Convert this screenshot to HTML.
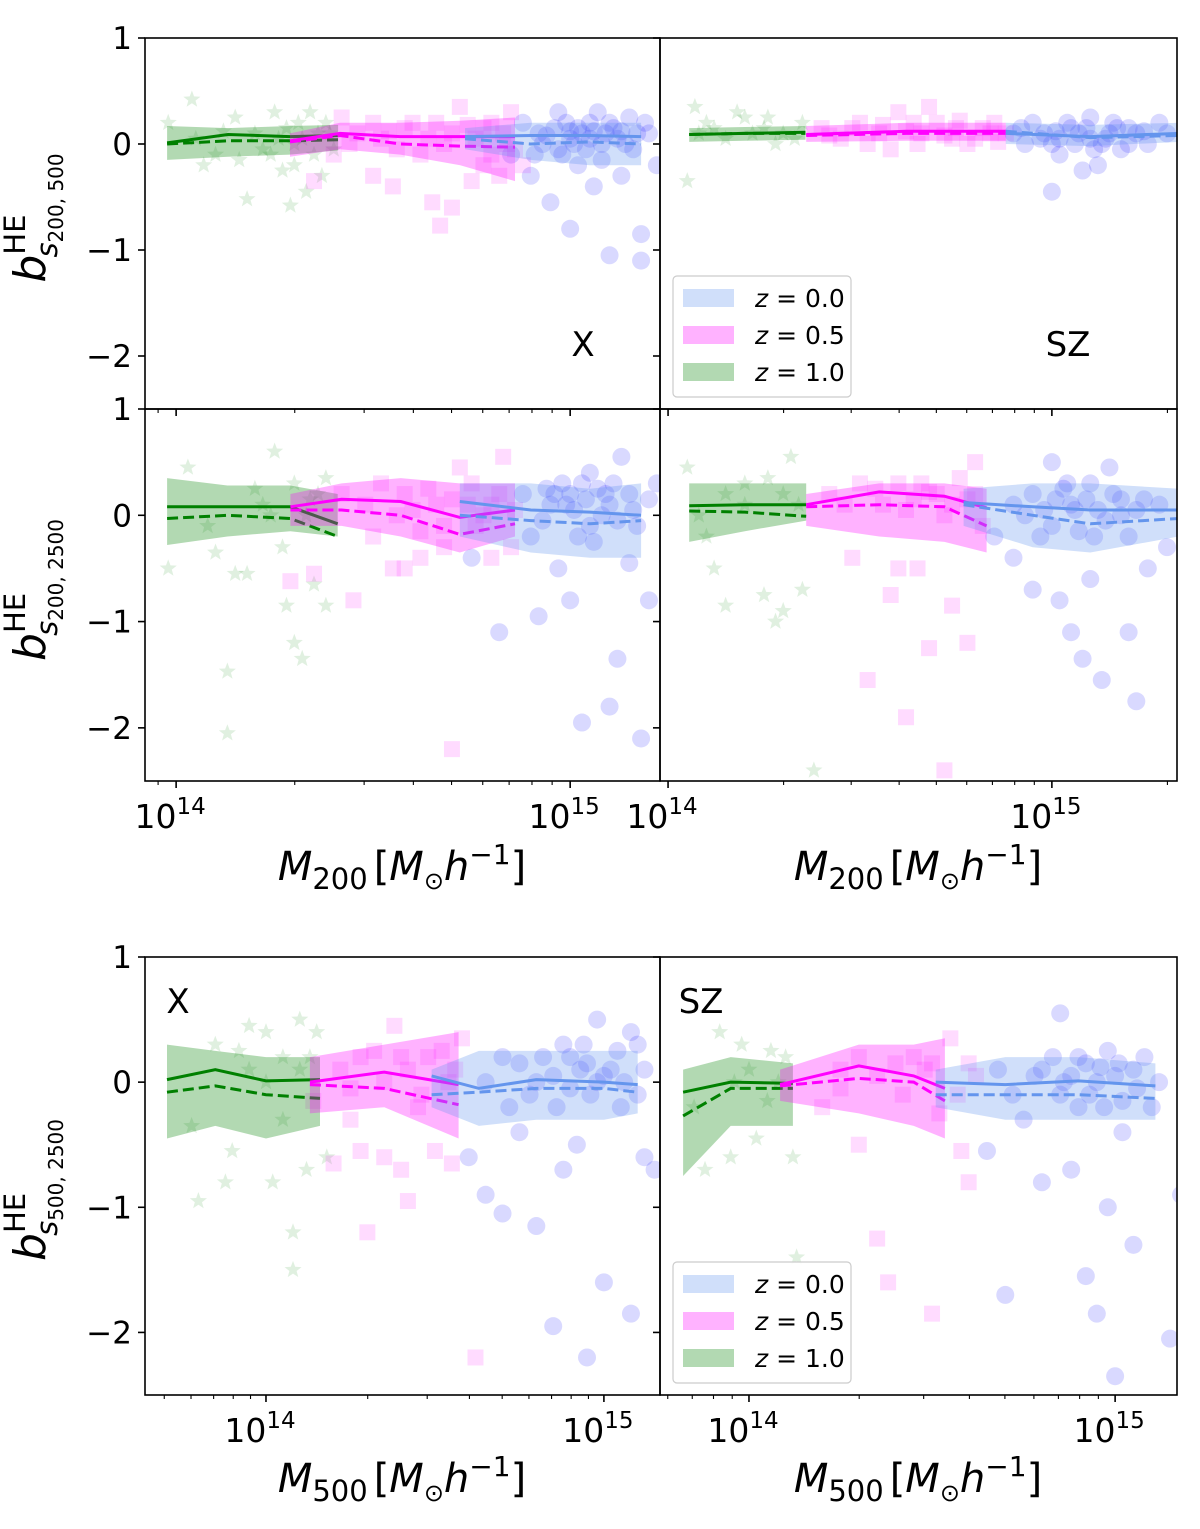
<!DOCTYPE html>
<html><head><meta charset="utf-8"><style>
html,body{margin:0;padding:0;background:#fff}
svg{display:block;font-family:"DejaVu Sans","Liberation Sans",sans-serif}
</style></head><body>
<svg id="fig" width="1200" height="1529" viewBox="0 0 1200 1529" xmlns="http://www.w3.org/2000/svg">
<g id="layer"></g>
</svg>
<script>
// ---------------- DATA ----------------
const A_gx=[13.977,14.132,14.289,14.411], A_gs=[0.01,0.09,0.07,0.08], A_gd=[0.0,0.03,0.03,0.04], A_gh=[0.17,0.15,0.17,0.18], A_gl=[-0.15,-0.12,-0.1,-0.06];
const A_mx=[14.289,14.416,14.569,14.721,14.86], A_ms=[0.03,0.1,0.07,0.07,0.07], A_md=[0.02,0.08,0.0,-0.02,-0.03], A_mh=[0.1,0.2,0.2,0.22,0.25], A_ml=[-0.12,-0.05,-0.1,-0.2,-0.35];
const A_bx=[14.733,14.9,15.05,15.18], A_bs=[0.07,0.08,0.08,0.07], A_bd=[0.05,0.0,0.02,0.0], A_bh=[0.15,0.2,0.2,0.2], A_bl=[-0.05,-0.15,-0.2,-0.2];

const B_gx=[14.055,14.2,14.358], B_gs=[0.09,0.1,0.11], B_gd=[0.09,0.1,0.1], B_gh=[0.15,0.16,0.17], B_gl=[0.02,0.03,0.04];
const B_mx=[14.36,14.62,14.88], B_ms=[0.09,0.12,0.12], B_md=[0.08,0.1,0.1], B_mh=[0.17,0.2,0.2], B_ml=[0.02,0.03,0.03];
const B_bx=[14.88,15.1,15.33], B_bs=[0.1,0.07,0.1], B_bd=[0.12,0.06,0.08], B_bh=[0.2,0.18,0.2], B_bl=[0.0,-0.02,0.02];

const C_gx=[13.977,14.13,14.29,14.41], C_gs=[0.08,0.08,0.08,-0.08], C_gd=[-0.03,0.0,-0.03,-0.2], C_gh=[0.35,0.28,0.28,0.2], C_gl=[-0.28,-0.2,-0.15,-0.2];
const C_mx=[14.29,14.42,14.57,14.72,14.86], C_ms=[0.08,0.15,0.13,-0.02,0.05], C_md=[0.05,0.05,0.0,-0.18,-0.08], C_mh=[0.2,0.3,0.35,0.3,0.3], C_ml=[-0.1,-0.1,-0.2,-0.35,-0.2];
const C_bx=[14.72,14.9,15.05,15.18], C_bs=[0.13,0.05,0.03,0.0], C_bd=[0.0,-0.05,-0.08,-0.05], C_bh=[0.3,0.3,0.25,0.3], C_bl=[-0.2,-0.35,-0.4,-0.4];

const D_gx=[14.055,14.2,14.36], D_gs=[0.09,0.1,0.1], D_gd=[0.04,0.03,-0.01], D_gh=[0.3,0.3,0.3], D_gl=[-0.25,-0.15,-0.05];
const D_mx=[14.36,14.55,14.72,14.83], D_ms=[0.1,0.22,0.18,0.07], D_md=[0.08,0.1,0.08,-0.1], D_mh=[0.2,0.3,0.3,0.25], D_ml=[-0.1,-0.2,-0.25,-0.35];
const D_bx=[14.77,14.95,15.1,15.33], D_bs=[0.12,0.08,0.05,0.05], D_bd=[0.1,0.0,-0.08,-0.03], D_bh=[0.25,0.3,0.3,0.25], D_bl=[-0.1,-0.3,-0.35,-0.2];

const E_gx=[13.707,13.85,14.0,14.16], E_gs=[0.02,0.1,0.01,0.02], E_gd=[-0.08,-0.03,-0.1,-0.13], E_gh=[0.3,0.25,0.2,0.2], E_gl=[-0.45,-0.35,-0.45,-0.35];
const E_mx=[14.13,14.35,14.57], E_ms=[0.0,0.08,-0.02], E_md=[-0.02,-0.05,-0.18], E_mh=[0.2,0.3,0.4], E_ml=[-0.25,-0.2,-0.45];
const E_bx=[14.49,14.63,14.8,15.0,15.1], E_bs=[0.05,-0.05,0.02,0.0,-0.02], E_bd=[-0.1,-0.08,-0.05,-0.05,-0.08], E_bh=[0.1,0.25,0.25,0.25,0.25], E_bl=[-0.2,-0.35,-0.3,-0.3,-0.25];

const F_gx=[13.82,13.95,14.12], F_gs=[-0.08,0.0,-0.01], F_gd=[-0.27,-0.05,-0.05], F_gh=[0.1,0.2,0.15], F_gl=[-0.75,-0.35,-0.35];
const F_mx=[14.085,14.3,14.45,14.535], F_ms=[-0.02,0.13,0.05,-0.05], F_md=[-0.03,0.03,0.0,-0.15], F_mh=[0.1,0.3,0.3,0.35], F_ml=[-0.15,-0.25,-0.35,-0.45];
const F_bx=[14.51,14.7,14.9,15.11], F_bs=[0.0,-0.02,0.01,-0.03], F_bd=[-0.1,-0.1,-0.1,-0.13], F_bh=[0.1,0.2,0.2,0.15], F_bl=[-0.2,-0.3,-0.3,-0.3];

// scatter points [log10 mass, bias]
const A_gp=[[14.04,0.42],[13.98,0.2],[14.05,0.05],[14.1,-0.1],[14.15,0.25],[14.16,-0.15],[14.18,-0.52],[14.2,0.1],[14.22,-0.05],[14.25,0.3],[14.28,0.15],[14.29,-0.58],[14.3,-0.2],[14.32,0.05],[14.34,0.3],[14.35,-0.1],[14.37,-0.3],[14.38,0.2],[14.4,-0.05],[14.27,-0.25],[14.12,0.12],[14.33,-0.45],[14.26,0.05],[14.36,0.1],[14.31,0.2],[14.07,-0.2],[14.24,-0.1],[14.39,0.1],[14.3,0.0]];
const A_mp=[[14.35,-0.35],[14.42,0.25],[14.5,-0.3],[14.55,-0.4],[14.6,0.2],[14.62,-0.1],[14.65,-0.55],[14.67,-0.77],[14.7,-0.6],[14.72,0.35],[14.75,-0.35],[14.78,0.15],[14.8,-0.1],[14.82,-0.3],[14.85,0.3],[14.46,0.1],[14.52,0.05],[14.58,0.15],[14.68,0.0],[14.76,0.05],[14.4,-0.1],[14.88,-0.2],[14.5,0.2],[14.83,0.1],[14.86,-0.05],[14.8,0.2],[14.7,0.1],[14.44,0.0],[14.54,0.12],[14.64,0.05],[14.74,0.18],[14.84,0.0],[14.78,-0.2],[14.66,0.2],[14.56,-0.05]];
const A_bp=[[14.85,-0.1],[14.88,0.2],[14.9,-0.3],[14.92,0.1],[14.95,-0.55],[14.97,0.3],[15.0,0.05],[15.0,-0.8],[15.02,-0.2],[15.05,0.2],[15.06,-0.4],[15.08,0.0],[15.1,-1.05],[15.11,0.15],[15.13,-0.3],[15.15,0.25],[15.16,-0.05],[15.18,-0.85],[15.18,-1.1],[15.2,0.1],[15.22,-0.2],[14.93,0.0],[15.03,0.1],[15.12,0.05],[14.98,-0.1],[15.07,0.3],[14.96,0.15],[15.04,-0.05],[15.09,0.1],[15.14,0.0],[15.19,0.2],[14.99,0.2],[15.01,0.0],[15.06,0.12],[14.94,0.08],[15.02,0.15],[15.1,0.2],[15.05,0.05],[14.97,-0.05],[15.13,0.12],[15.08,-0.15],[15.17,0.1],[14.91,-0.1],[15.0,0.12]];

const B_gp=[[14.07,0.35],[14.05,-0.35],[14.1,0.2],[14.15,0.05],[14.2,0.25],[14.25,0.15],[14.3,0.1],[14.35,0.2],[14.12,0.15],[14.28,0.0],[14.33,0.05],[14.22,0.1],[14.18,0.3],[14.08,0.1],[14.26,0.25]];
const B_mp=[[14.4,0.15],[14.45,0.05],[14.5,0.2],[14.55,0.1],[14.6,0.3],[14.65,0.0],[14.7,0.2],[14.75,0.15],[14.8,0.05],[14.85,0.2],[14.58,-0.05],[14.68,0.35],[14.78,0.0],[14.62,0.12],[14.72,0.08],[14.82,0.15],[14.52,0.0],[14.88,0.1],[14.42,0.08],[14.48,0.15],[14.64,0.2],[14.74,0.05],[14.84,0.1],[14.56,0.18],[14.66,0.1],[14.76,0.22],[14.86,0.02]];
const B_bp=[[14.9,0.1],[14.95,0.2],[15.0,0.0],[15.02,-0.1],[15.05,0.15],[15.08,-0.25],[15.1,0.05],[15.12,-0.2],[15.15,0.1],[15.2,0.15],[15.25,0.0],[15.3,0.1],[15.0,-0.45],[14.97,0.05],[15.18,-0.05],[15.04,0.2],[15.07,0.1],[15.13,0.0],[15.22,0.1],[14.93,0.0],[15.28,0.2],[15.1,0.25],[15.02,0.05],[15.16,0.2],[14.92,0.15],[14.98,0.1],[15.06,0.0],[15.09,0.15],[15.14,0.05],[15.2,0.0],[15.24,0.12],[15.01,0.12],[15.11,-0.05],[15.17,0.15]];

const C_gp=[[14.03,0.45],[13.98,-0.5],[14.08,-0.1],[14.1,-0.35],[14.15,-0.55],[14.18,-0.55],[14.13,-1.47],[14.13,-2.05],[14.25,0.6],[14.28,-0.85],[14.3,-1.2],[14.32,-1.35],[14.35,-0.65],[14.38,-0.85],[14.3,0.3],[14.22,0.1],[14.36,0.2],[14.27,-0.3],[14.33,0.0],[14.2,0.25],[14.38,0.35],[14.24,0.0],[14.34,0.15]];
const C_mp=[[14.29,-0.62],[14.35,-0.55],[14.45,-0.8],[14.5,-0.2],[14.55,-0.5],[14.58,-0.5],[14.62,-0.4],[14.68,-0.3],[14.72,0.45],[14.7,-2.2],[14.78,0.0],[14.83,0.55],[14.85,-0.3],[14.42,0.2],[14.52,0.3],[14.66,0.1],[14.75,0.3],[14.6,0.05],[14.8,-0.4],[14.7,0.15],[14.82,0.2],[14.64,0.25],[14.56,0.0],[14.76,-0.1],[14.48,0.1],[14.58,0.2],[14.68,-0.1],[14.74,0.1],[14.8,0.1],[14.62,-0.15],[14.86,0.05]];
const C_bp=[[14.75,-0.4],[14.82,-1.1],[14.9,-0.2],[14.92,-0.95],[14.97,-0.5],[15.0,0.2],[15.0,-0.8],[15.03,-1.95],[15.05,0.4],[15.1,-1.8],[15.12,-1.35],[15.15,-0.45],[15.18,-2.1],[15.2,-0.8],[15.22,0.3],[15.25,-1.15],[14.95,0.1],[15.08,0.0],[15.15,0.2],[15.02,-0.2],[15.13,0.55],[14.88,0.2],[14.98,0.3],[15.04,0.15],[15.07,0.25],[15.1,0.1],[15.17,-0.1],[14.93,-0.05],[15.01,0.05],[15.06,-0.25],[15.2,0.15],[14.96,0.2],[15.03,0.3],[15.09,0.2],[15.12,-0.05],[14.99,0.1],[15.05,-0.1],[15.16,0.05],[14.94,0.25],[15.11,0.3]];

const D_gp=[[14.05,0.45],[14.1,-0.2],[14.12,-0.5],[14.15,-0.85],[14.2,0.3],[14.25,-0.75],[14.28,-1.0],[14.3,-0.9],[14.32,0.55],[14.35,-0.7],[14.38,-2.4],[14.2,0.1],[14.3,0.2],[14.08,0.0],[14.26,0.35],[14.34,0.1],[14.15,0.2]];
const D_mp=[[14.42,0.2],[14.48,-0.4],[14.52,-1.55],[14.58,-0.75],[14.6,-0.5],[14.62,-1.9],[14.65,-0.5],[14.68,-1.25],[14.72,-2.4],[14.74,-0.85],[14.78,-1.2],[14.8,0.5],[14.5,0.3],[14.56,0.1],[14.7,0.2],[14.76,0.35],[14.82,-0.1],[14.64,0.15],[14.74,0.1],[14.8,0.2],[14.6,0.3],[14.46,0.1],[14.54,0.25],[14.66,0.3],[14.72,0.0],[14.78,0.15],[14.62,0.05],[14.68,0.22]];
const D_bp=[[14.85,-0.2],[14.9,-0.4],[14.95,-0.7],[15.0,0.5],[15.02,-0.8],[15.05,-1.1],[15.08,-1.35],[15.1,-0.6],[15.13,-1.55],[15.15,0.45],[15.2,-1.1],[15.22,-1.75],[15.25,-0.5],[15.3,-0.3],[14.95,0.2],[15.05,0.1],[15.1,0.3],[15.18,0.0],[15.28,0.1],[15.0,-0.1],[14.98,0.05],[15.03,0.25],[15.07,-0.15],[15.12,0.05],[15.16,0.2],[15.24,0.15],[14.9,0.1],[15.2,-0.2],[14.93,0.0],[15.01,0.15],[15.04,0.3],[15.06,0.05],[15.09,0.15],[15.14,-0.05],[15.18,0.15],[14.97,-0.2],[15.11,-0.2],[15.22,0.05]];

const E_gp=[[13.78,-0.35],[13.8,-0.95],[13.85,0.3],[13.88,-0.8],[13.9,-0.55],[13.95,0.45],[14.0,0.4],[14.02,-0.8],[14.05,0.2],[14.08,-1.2],[14.08,-1.5],[14.1,0.5],[14.12,-0.7],[14.15,0.4],[14.18,-0.6],[13.95,0.1],[14.05,-0.3],[14.1,0.1],[14.0,0.0],[13.92,0.25],[14.13,0.2]];
const E_mp=[[14.14,-0.15],[14.2,-0.65],[14.25,-0.3],[14.28,-0.55],[14.3,-1.2],[14.35,-0.6],[14.38,0.45],[14.4,-0.7],[14.42,-0.95],[14.45,-0.2],[14.5,-0.55],[14.55,-0.65],[14.58,0.35],[14.62,-2.2],[14.28,0.2],[14.48,0.2],[14.42,0.1],[14.52,0.25],[14.56,0.1],[14.35,0.0],[14.22,0.1],[14.32,0.25],[14.46,-0.1],[14.54,0.0],[14.4,0.2],[14.25,-0.05]];
const E_bp=[[14.6,-0.6],[14.65,-0.9],[14.7,-1.05],[14.75,-0.4],[14.8,-1.15],[14.82,0.2],[14.85,-1.95],[14.88,-0.7],[14.92,-0.5],[14.95,-2.2],[14.98,0.5],[15.0,-1.6],[15.05,-0.2],[15.08,-1.85],[15.1,0.3],[15.12,-0.6],[15.15,-0.7],[14.9,0.2],[15.02,0.1],[14.96,-0.1],[14.7,0.2],[15.08,0.4],[14.85,0.05],[14.93,0.1],[14.98,0.0],[15.04,0.25],[14.78,-0.1],[15.1,-0.1],[14.88,0.3],[14.65,0.0],[14.75,0.15],[14.8,0.0],[14.9,-0.05],[14.95,0.15],[15.0,0.05],[15.06,0.0],[14.72,-0.2],[14.86,-0.2],[14.94,0.3],[15.12,0.1]];

const F_gp=[[13.85,-0.2],[13.88,-0.7],[13.92,0.4],[13.95,-0.6],[13.98,0.3],[14.02,-0.45],[14.05,-0.15],[14.1,0.2],[14.12,-0.6],[14.13,-1.4],[14.08,0.0],[14.0,0.1],[13.96,0.0],[14.06,0.25]];
const F_mp=[[14.2,-0.2],[14.25,0.1],[14.3,-0.5],[14.35,-1.25],[14.38,-1.6],[14.45,0.2],[14.5,-1.85],[14.52,-0.25],[14.55,0.35],[14.58,-0.55],[14.6,-0.8],[14.62,0.05],[14.4,0.15],[14.57,-0.1],[14.3,0.2],[14.48,0.1],[14.35,0.05],[14.42,-0.1],[14.5,0.15],[14.6,0.15],[14.25,-0.05]];
const F_bp=[[14.65,-0.55],[14.7,-1.7],[14.75,-0.3],[14.8,-0.8],[14.85,0.55],[14.88,-0.7],[14.92,-1.55],[14.95,-1.85],[14.98,-1.0],[15.0,-2.35],[15.02,-0.4],[15.05,-1.3],[15.1,-0.2],[15.15,-2.05],[15.18,-0.9],[14.8,0.1],[14.9,0.2],[15.0,0.05],[15.08,0.2],[14.72,-0.1],[14.85,-0.1],[14.95,0.0],[15.05,0.1],[14.92,0.15],[15.12,0.0],[14.78,0.05],[15.02,-0.15],[14.98,0.25],[14.88,0.05],[14.93,-0.1],[14.96,0.12],[15.01,0.15],[14.9,-0.2],[14.83,0.2],[15.06,-0.05],[14.68,0.1],[14.86,0.0],[14.97,-0.2]];

const yTicks=[1,0,-1,-2];
const yTickLabels=["1","0","\u22121","\u22122"];
const xDecades=[14,15];

// ---------------- DRAW ----------------
const NS="http://www.w3.org/2000/svg";
const layer=document.getElementById('layer');
function mk(tag,attrs,parent){const e=document.createElementNS(NS,tag);for(const k in attrs)e.setAttribute(k,attrs[k]);(parent||layer).appendChild(e);return e;}

const panels=[
 {id:'a',x0:145,x1:660,y0:38,y1:409,xmin:13.921,xmax:15.228,ylab:true,xlab:false,txt:'X',tx:583,ty:356,
  g:[A_gx,A_gs,A_gd,A_gh,A_gl,A_gp],m:[A_mx,A_ms,A_md,A_mh,A_ml,A_mp],b:[A_bx,A_bs,A_bd,A_bh,A_bl,A_bp]},
 {id:'b',x0:660,x1:1177,y0:38,y1:409,xmin:13.979,xmax:15.326,ylab:false,xlab:false,txt:'SZ',tx:1068,ty:356,legend:true,
  g:[B_gx,B_gs,B_gd,B_gh,B_gl,B_gp],m:[B_mx,B_ms,B_md,B_mh,B_ml,B_mp],b:[B_bx,B_bs,B_bd,B_bh,B_bl,B_bp]},
 {id:'c',x0:145,x1:660,y0:409,y1:781,xmin:13.921,xmax:15.228,ylab:true,xlab:true,
  g:[C_gx,C_gs,C_gd,C_gh,C_gl,C_gp],m:[C_mx,C_ms,C_md,C_mh,C_ml,C_mp],b:[C_bx,C_bs,C_bd,C_bh,C_bl,C_bp]},
 {id:'d',x0:660,x1:1177,y0:409,y1:781,xmin:13.979,xmax:15.326,ylab:false,xlab:true,
  g:[D_gx,D_gs,D_gd,D_gh,D_gl,D_gp],m:[D_mx,D_ms,D_md,D_mh,D_ml,D_mp],b:[D_bx,D_bs,D_bd,D_bh,D_bl,D_bp]},
 {id:'e',x0:145,x1:660,y0:957,y1:1395,xmin:13.642,xmax:15.166,ylab:true,xlab:true,txt:'X',tx:178,ty:1013,
  g:[E_gx,E_gs,E_gd,E_gh,E_gl,E_gp],m:[E_mx,E_ms,E_md,E_mh,E_ml,E_mp],b:[E_bx,E_bs,E_bd,E_bh,E_bl,E_bp]},
 {id:'f',x0:660,x1:1177,y0:957,y1:1395,xmin:13.757,xmax:15.169,ylab:false,xlab:true,txt:'SZ',tx:701,ty:1013,legend:true,
  g:[F_gx,F_gs,F_gd,F_gh,F_gl,F_gp],m:[F_mx,F_ms,F_md,F_mh,F_ml,F_mp],b:[F_bx,F_bs,F_bd,F_bh,F_bl,F_bp]},
];

const styles={
 g:{band:'green',bandOp:0.3,line:'green',mark:'star'},
 m:{band:'magenta',bandOp:0.3,line:'magenta',mark:'square'},
 b:{band:'cornflowerblue',bandOp:0.3,line:'cornflowerblue',mark:'circle'}
};

function starPath(cx,cy,R){const r=R*0.42;let d='';for(let i=0;i<10;i++){const a=-Math.PI/2+i*Math.PI/5;const rr=i%2?r:R;d+=(i?'L':'M')+(cx+rr*Math.cos(a)).toFixed(1)+','+(cy+rr*Math.sin(a)).toFixed(1);}return d+'Z';}

panels.forEach(p=>{
  const X=v=>p.x0+(v-p.xmin)/(p.xmax-p.xmin)*(p.x1-p.x0);
  const Y=v=>p.y0+(1-v)/3.5*(p.y1-p.y0);
  const g=mk('g',{});
  
  
  const cid='clip'+p.id;
  const cp=mk('clipPath',{id:cid},g);mk('rect',{x:p.x0,y:p.y0,width:p.x1-p.x0,height:p.y1-p.y0},cp);
  const plot=mk('g',{'clip-path':'url(#'+cid+')'},g);
  ['g','m','b'].forEach(k=>{
    const st=styles[k];const pts=p[k][5];
    const sg=mk('g',{},plot);
    
    
    pts.forEach(pt=>{
      const cx=X(pt[0]),cy=Y(pt[1]);
      let e;
      if(st.mark==='circle') e=mk('circle',{cx:cx,cy:cy,r:9,fill:'blue','fill-opacity':0.15},sg);
      else if(st.mark==='square') e=mk('rect',{x:cx-8,y:cy-8,width:16,height:16,fill:'magenta','fill-opacity':0.14},sg);
      else e=mk('path',{d:starPath(cx,cy,9),fill:'green','fill-opacity':0.12},sg);
      
      
    });
  });
  ['g','m','b'].forEach(k=>{
    const st=styles[k];const [xs,sol,das,hi,lo]=p[k];
    let d='';xs.forEach((x,i)=>{d+=(i?'L':'M')+X(x).toFixed(1)+','+Y(hi[i]).toFixed(1);});
    for(let i=xs.length-1;i>=0;i--)d+='L'+X(xs[i]).toFixed(1)+','+Y(lo[i]).toFixed(1);
    const band=mk('path',{d:d+'Z',fill:st.band,'fill-opacity':st.bandOp},plot);
    
    
    const ptsS=xs.map((x,i)=>X(x).toFixed(1)+','+Y(sol[i]).toFixed(1)).join(' ');
    const ptsD=xs.map((x,i)=>X(x).toFixed(1)+','+Y(das[i]).toFixed(1)).join(' ');
    const l1=mk('polyline',{points:ptsS,fill:'none',stroke:st.line,'stroke-width':3},plot);
    
    
    const l2=mk('polyline',{points:ptsD,fill:'none',stroke:st.line,'stroke-width':3,'stroke-dasharray':'11,5'},plot);
    
    
  });
  const fr=mk('rect',{x:p.x0,y:p.y0,width:p.x1-p.x0,height:p.y1-p.y0,fill:'none',stroke:'#000','stroke-width':1.6},g);
  
  
  yTicks.forEach((t,i)=>{
    const y=Y(t);
    mk('line',{x1:p.x0-7,x2:p.x0,y1:y,y2:y,stroke:'#000','stroke-width':1.6},g);
    if(p.ylab){const tx=mk('text',{x:p.x0-13,y:y+11,'text-anchor':'end','font-size':31,fill:'#000'},g);tx.textContent=yTickLabels[i];
      
      }
  });
  for(let dcd=13;dcd<=15;dcd++){for(let m=1;m<10;m++){const lv=dcd+Math.log10(m);if(lv<p.xmin||lv>p.xmax)continue;const x=X(lv);
    mk('line',{x1:x,x2:x,y1:p.y1,y2:p.y1+(m===1?7:4),stroke:'#000','stroke-width':m===1?1.6:1.1},g);}}
  if(p.xlab){xDecades.forEach(dcd=>{const x=X(dcd);
    const t=mk('text',{x:x-6,y:p.y1+47,'text-anchor':'middle','font-size':33,fill:'#000'},g);
    
    
    t.appendChild(document.createTextNode('10'));
    const s=document.createElementNS(NS,'tspan');s.setAttribute('dy','-14');s.setAttribute('font-size','23');s.textContent=String(dcd);t.appendChild(s);});}
  if(p.txt){const t=mk('text',{x:p.tx,y:p.ty,'text-anchor':'middle','font-size':34,fill:'#000'},g);t.textContent=p.txt;
    
    }
  if(p.legend){
    const lg=mk('g',{},g);
    
    
    const top=p.y1-133;
    mk('rect',{x:p.x0+13,y:top,width:178,height:121,rx:4,fill:'#fff','fill-opacity':0.85,stroke:'#ccc','stroke-width':1.2},lg);
    [['cornflowerblue','0.0'],['magenta','0.5'],['green','1.0']].forEach((e,i)=>{
      const cy=top+22+i*37;
      const pr=mk('rect',{x:p.x0+23,y:cy-9,width:51,height:18,fill:e[0],'fill-opacity':0.3},lg);
      
      
      const t=mk('text',{x:p.x0+95,y:cy+9,'font-size':25,fill:'#000'},lg);
      
      
      const it=document.createElementNS(NS,'tspan');it.setAttribute('font-style','italic');it.textContent='z';t.appendChild(it);
      t.appendChild(document.createTextNode(' = '+e[1]));
    });
  }
});

function ylabel(cy,sub,name){
  const t=mk('text',{x:0,y:0,'font-size':44,fill:'#000',transform:'translate(45,'+cy+') rotate(-90)','text-anchor':'middle'});
  
  
  const b=document.createElementNS(NS,'tspan');b.setAttribute('font-style','italic');b.textContent='b';t.appendChild(b);
  const he=document.createElementNS(NS,'tspan');he.setAttribute('font-size','29');he.setAttribute('dy','-20');he.textContent='HE';t.appendChild(he);
  const s=document.createElementNS(NS,'tspan');s.setAttribute('font-size','29');s.setAttribute('dx','-43');s.setAttribute('dy','32');s.setAttribute('font-style','italic');s.textContent='s';t.appendChild(s);
  const s2=document.createElementNS(NS,'tspan');s2.setAttribute('font-size','20');s2.setAttribute('dy','6');s2.textContent=sub;t.appendChild(s2);
}
ylabel(218,'200, 500','y-axis-title-top');
ylabel(590,'200, 2500','y-axis-title-middle');
ylabel(1190,'500, 2500','y-axis-title-bottom');

function xlabel(cx,cy,sub,name){
  const t=mk('text',{x:cx,y:cy,'font-size':40,fill:'#000','text-anchor':'middle'});
  
  
  const a=document.createElementNS(NS,'tspan');a.setAttribute('font-style','italic');a.textContent='M';t.appendChild(a);
  const b=document.createElementNS(NS,'tspan');b.setAttribute('font-size','29');b.setAttribute('dy','9');b.textContent='200'===sub?'200':sub;t.appendChild(b);
  const c=document.createElementNS(NS,'tspan');c.setAttribute('dy','-9');c.textContent='[';c.setAttribute('dx','6');t.appendChild(c);
  const d=document.createElementNS(NS,'tspan');d.setAttribute('font-style','italic');d.textContent='M';t.appendChild(d);
  const e=document.createElementNS(NS,'tspan');e.setAttribute('font-size','24');e.setAttribute('dy','9');e.textContent='\u2299';t.appendChild(e);
  const f=document.createElementNS(NS,'tspan');f.setAttribute('font-style','italic');f.setAttribute('dy','-9');f.textContent='h';t.appendChild(f);
  const g=document.createElementNS(NS,'tspan');g.setAttribute('font-size','28');g.setAttribute('dy','-16');g.textContent='\u22121';t.appendChild(g);
  const h=document.createElementNS(NS,'tspan');h.setAttribute('dy','16');h.textContent=']';t.appendChild(h);
}
xlabel(402,880,'200','x-axis-title-left-m200');
xlabel(918,880,'200','x-axis-title-right-m200');
xlabel(402,1492,'500','x-axis-title-left-m500');
xlabel(918,1492,'500','x-axis-title-right-m500');
</script>
</body></html>
